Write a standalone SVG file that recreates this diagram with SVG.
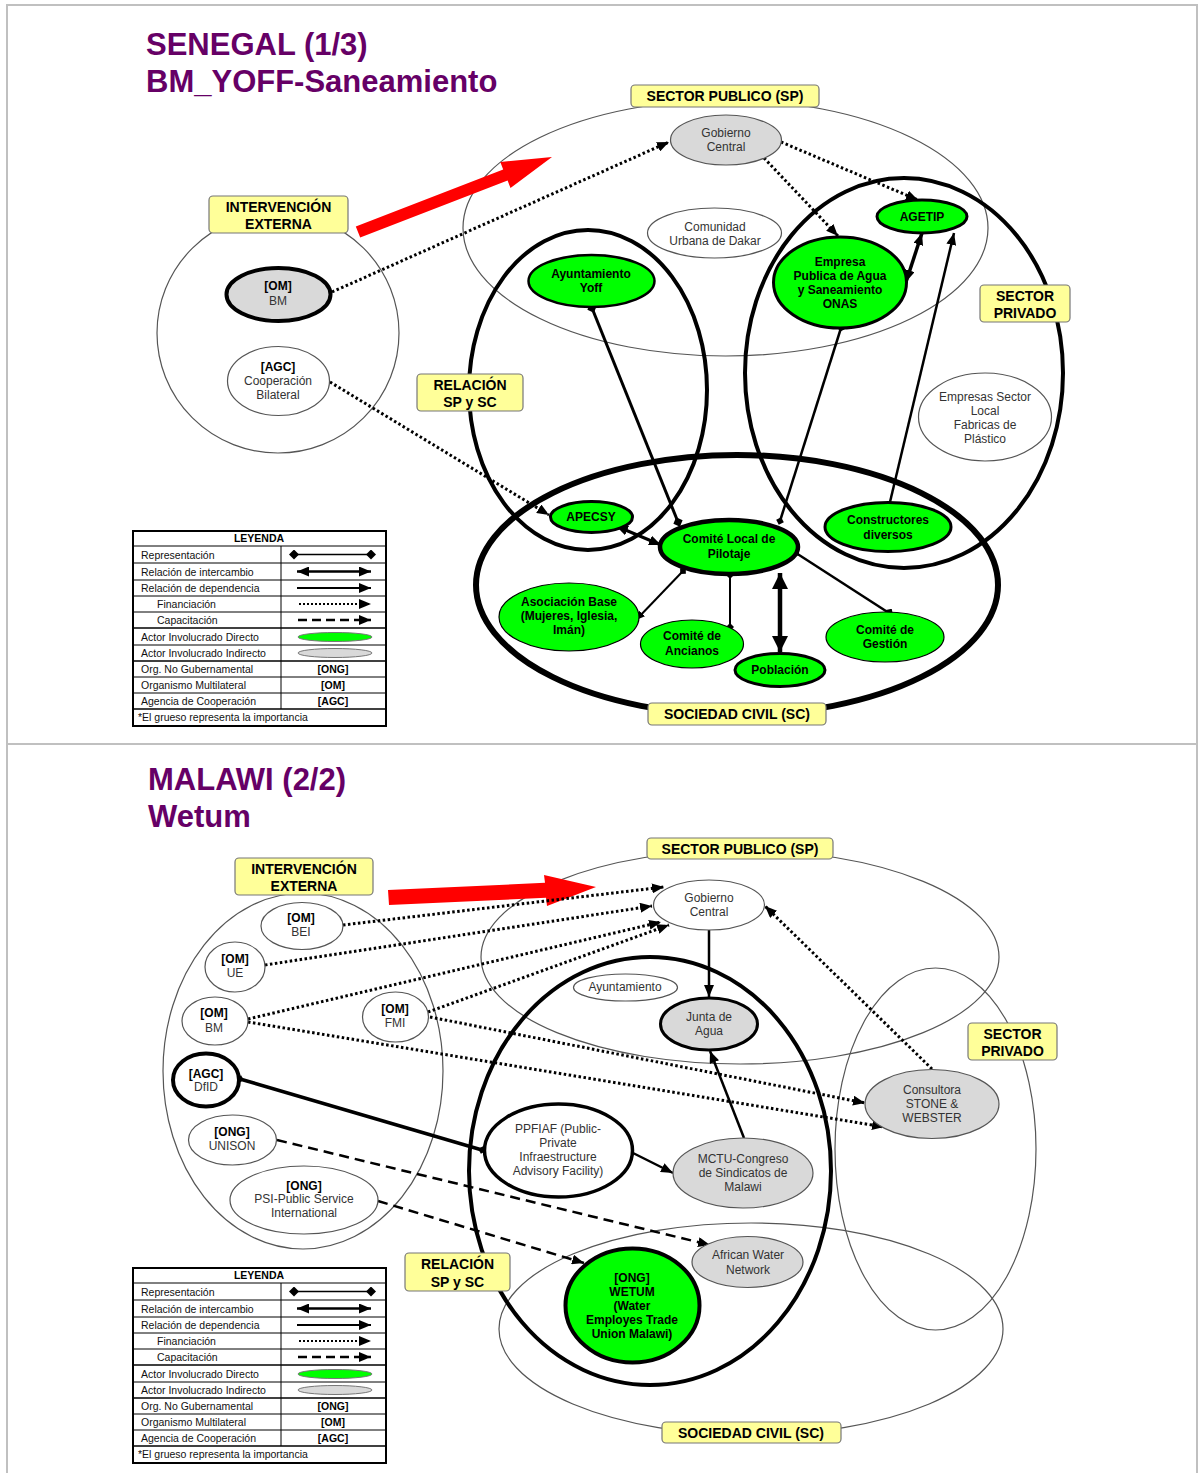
<svg xmlns="http://www.w3.org/2000/svg" width="1198" height="1473" viewBox="0 0 1198 1473">
<defs>
<style>
text{font-family:"Liberation Sans",Arial,sans-serif;}
.title{font-size:31px;font-weight:bold;fill:#660066;}
.region{fill:none;stroke:#555;stroke-width:1.2;}
.regionk{fill:none;stroke:#000;stroke-width:4;}
.lbl rect{fill:#ffff99;stroke:#777;stroke-width:1.2;}
.lbl text{font-size:14px;font-weight:bold;text-anchor:middle;fill:#000;}
.green{fill:#00ff00;stroke:#000;}
.gray{fill:#d9d9d9;stroke:#555;}
.white{fill:#fff;stroke:#555;}
.blk{stroke:#000;}
.nt{font-size:12px;text-anchor:middle;fill:#333;}
.nb{font-size:12px;font-weight:bold;text-anchor:middle;fill:#000;}
.dot{fill:none;stroke:#000;stroke-width:3;stroke-dasharray:2.5 2.5;}
.sol{fill:none;stroke:#000;}
.dash{fill:none;stroke:#000;stroke-width:2.5;stroke-dasharray:10 6;}
.lg{font-size:10.5px;fill:#111;}
.lgb{font-size:10.5px;fill:#000;font-weight:bold;text-anchor:middle;}
.lgl{stroke:#000;stroke-width:1;}
</style>
<marker id="ar" viewBox="0 0 12 10" refX="12" refY="5" markerWidth="12" markerHeight="10" markerUnits="userSpaceOnUse" orient="auto-start-reverse"><path d="M0,0L12,5L0,10z" fill="#000"/></marker>
<marker id="ars" viewBox="0 0 9 8" refX="9" refY="4" markerWidth="9" markerHeight="8" markerUnits="userSpaceOnUse" orient="auto-start-reverse"><path d="M0,0L9,4L0,8z" fill="#000"/></marker>
<marker id="arb" viewBox="0 0 16 16" refX="16" refY="8" markerWidth="16" markerHeight="16" markerUnits="userSpaceOnUse" orient="auto-start-reverse"><path d="M0,0L16,8L0,16z" fill="#000"/></marker>
<marker id="dm" viewBox="0 0 10 10" refX="5" refY="5" markerWidth="10" markerHeight="10" markerUnits="userSpaceOnUse" orient="auto"><path d="M0,5L5,0L10,5L5,10z" fill="#000"/></marker>
<marker id="dms" viewBox="0 0 8 8" refX="4" refY="4" markerWidth="8" markerHeight="8" markerUnits="userSpaceOnUse" orient="auto"><path d="M0,4L4,0L8,4L4,8z" fill="#000"/></marker>
</defs>

<rect x="0" y="0" width="1198" height="1473" fill="#fff"/>
<g id="frame">
<rect x="7" y="5" width="1190" height="1472" fill="none" stroke="#c0c0c0" stroke-width="2"/>
<line x1="7" y1="744" x2="1197" y2="744" stroke="#c0c0c0" stroke-width="2"/>
</g>

<!-- ================= SENEGAL ================= -->
<g id="title-senegal">
<text class="title" x="146" y="55">SENEGAL (1/3)</text>
<text class="title" x="146" y="92">BM_YOFF-Saneamiento</text>
</g>

<g id="s-regions">
<ellipse id="s-ext" class="region" cx="278" cy="333" rx="121" ry="120"/>
<ellipse id="s-sp" class="region" cx="725.5" cy="228" rx="262.5" ry="128"/>
<ellipse id="s-rel" class="regionk" cx="588" cy="390" rx="119" ry="160"/>
<ellipse id="s-priv" class="regionk" cx="904" cy="373" rx="159" ry="195"/>
<ellipse id="s-sc" class="regionk" cx="737" cy="585" rx="261" ry="130" style="stroke-width:6"/>
</g>

<g id="s-redarrow">
<polygon points="355.8,226.4 503.2,169.4 500.3,161.9 552,157 510.5,188.1 507.6,180.6 360.2,237.6" fill="#ff0000"/>
</g>

<g id="s-connectors">
<line class="dot" x1="332" y1="292" x2="669" y2="142" marker-end="url(#ar)"/>
<line class="dot" x1="330" y1="382" x2="549" y2="515" marker-end="url(#ar)"/>
<line class="dot" x1="781" y1="142" x2="918" y2="200" marker-end="url(#ar)"/>
<line class="dot" x1="764" y1="158" x2="838" y2="236" marker-end="url(#ar)"/>
<line class="sol" stroke-width="3.5" x1="906" y1="282" x2="922" y2="233" marker-start="url(#ar)" marker-end="url(#ar)"/>
<line class="sol" stroke-width="2.5" x1="890" y1="502" x2="954" y2="233" marker-end="url(#ar)"/>
<line class="sol" stroke-width="2.5" x1="780" y1="521" x2="841" y2="328" marker-start="url(#dms)" marker-end="url(#dms)"/>
<line class="sol" stroke-width="3" x1="678" y1="522" x2="592" y2="308" marker-start="url(#dm)" marker-end="url(#dm)"/>
<line class="sol" stroke-width="3" x1="616" y1="526" x2="661" y2="545" marker-start="url(#ar)" marker-end="url(#ar)"/>
<line class="sol" stroke-width="2" x1="683" y1="571" x2="636" y2="620" marker-start="url(#dms)" marker-end="url(#ars)"/>
<line class="sol" stroke-width="2" x1="730" y1="575" x2="730" y2="627" marker-start="url(#dms)" marker-end="url(#dms)"/>
<line class="sol" stroke-width="4.5" x1="780" y1="573" x2="780" y2="652" marker-start="url(#arb)" marker-end="url(#arb)"/>
<line class="sol" stroke-width="2.5" x1="796" y1="553" x2="889" y2="613" marker-start="url(#dms)" marker-end="url(#dm)"/>
</g>

<g id="s-nodes">
<g id="s-bm"><ellipse class="gray blk" stroke-width="4" cx="278.5" cy="294.5" rx="52" ry="26.5"/>
<text class="nb" font-size="11" x="278" y="290">[OM]</text><text class="nt" x="278" y="305">BM</text></g>
<g id="s-agc"><ellipse class="white" stroke-width="1.2" cx="278.5" cy="381" rx="51" ry="34.5"/>
<text class="nb" font-size="11" x="278" y="371">[AGC]</text><text class="nt" x="278" y="385">Cooperación</text><text class="nt" x="278" y="399">Bilateral</text></g>
<g id="s-gob"><ellipse class="gray" stroke-width="1.2" cx="726" cy="140" rx="55.5" ry="25"/>
<text class="nt" x="726" y="137">Gobierno</text><text class="nt" x="726" y="151">Central</text></g>
<g id="s-cud"><ellipse class="white" stroke-width="1.2" cx="714.5" cy="233" rx="67" ry="25"/>
<text class="nt" x="715" y="231">Comunidad</text><text class="nt" x="715" y="245">Urbana de Dakar</text></g>
<g id="s-ayto"><ellipse class="green" stroke-width="2.5" cx="591.5" cy="281" rx="63" ry="26"/>
<text class="nb" x="591" y="278">Ayuntamiento</text><text class="nb" x="591" y="292">Yoff</text></g>
<g id="s-agetip"><ellipse class="green" stroke-width="3" cx="922" cy="216.5" rx="45" ry="16.5"/>
<text class="nb" x="922" y="221">AGETIP</text></g>
<g id="s-onas"><ellipse class="green" stroke-width="3" cx="840" cy="282.5" rx="66.5" ry="45.5"/>
<text class="nb" x="840" y="266">Empresa</text><text class="nb" x="840" y="280">Publica de Agua</text><text class="nb" x="840" y="294">y Saneamiento</text><text class="nb" x="840" y="308">ONAS</text></g>
<g id="s-esl"><ellipse class="white" stroke-width="1.2" cx="985" cy="417" rx="66.5" ry="44"/>
<text class="nt" x="985" y="401">Empresas Sector</text><text class="nt" x="985" y="415">Local</text><text class="nt" x="985" y="429">Fabricas de</text><text class="nt" x="985" y="443">Plástico</text></g>
<g id="s-apecsy"><ellipse class="green" stroke-width="3" cx="591.5" cy="517" rx="41" ry="15.5"/>
<text class="nb" x="591" y="521">APECSY</text></g>
<g id="s-clp"><ellipse class="green" stroke-width="4.5" cx="729" cy="547" rx="69" ry="27"/>
<text class="nb" x="729" y="543">Comité Local de</text><text class="nb" x="729" y="558">Pilotaje</text></g>
<g id="s-constr"><ellipse class="green" stroke-width="3" cx="888" cy="527" rx="63" ry="24.5"/>
<text class="nb" x="888" y="524">Constructores</text><text class="nb" x="888" y="539">diversos</text></g>
<g id="s-asoc"><ellipse class="green" stroke-width="1.2" cx="569" cy="617" rx="70" ry="34"/>
<text class="nb" x="569" y="606">Asociación Base</text><text class="nb" x="569" y="620">(Mujeres, Iglesia,</text><text class="nb" x="569" y="634">Imán)</text></g>
<g id="s-ancianos"><ellipse class="green" stroke-width="1.2" cx="692" cy="644" rx="51.5" ry="24"/>
<text class="nb" x="692" y="640">Comité de</text><text class="nb" x="692" y="655">Ancianos</text></g>
<g id="s-poblacion"><ellipse class="green" stroke-width="3" cx="780" cy="670" rx="45" ry="16.5"/>
<text class="nb" x="780" y="674">Población</text></g>
<g id="s-gestion"><ellipse class="green" stroke-width="1.2" cx="885" cy="637" rx="59" ry="25"/>
<text class="nb" x="885" y="634">Comité de</text><text class="nb" x="885" y="648">Gestión</text></g>
</g>

<g id="s-labels">
<g class="lbl" id="s-lbl-ext"><rect x="209" y="196" width="139" height="37" rx="4"/><text x="278.5" y="212">INTERVENCIÓN</text><text x="278.5" y="229">EXTERNA</text></g>
<g class="lbl" id="s-lbl-sp"><rect x="631" y="85" width="188" height="22" rx="4"/><text x="725" y="101">SECTOR PUBLICO (SP)</text></g>
<g class="lbl" id="s-lbl-priv"><rect x="980" y="285" width="90" height="37" rx="4"/><text x="1025" y="301">SECTOR</text><text x="1025" y="318">PRIVADO</text></g>
<g class="lbl" id="s-lbl-rel"><rect x="417" y="374" width="106" height="37" rx="4"/><text x="470" y="390">RELACIÓN</text><text x="470" y="407">SP y SC</text></g>
<g class="lbl" id="s-lbl-sc"><rect x="648" y="703" width="178" height="22" rx="4"/><text x="737" y="719">SOCIEDAD CIVIL (SC)</text></g>
</g>

<g id="legend-top">
<rect x="133" y="531" width="253" height="195" fill="#fff" stroke="#000" stroke-width="2"/>
<g class="lgl">
<line x1="133" y1="546" x2="386" y2="546"/><line x1="133" y1="563" x2="386" y2="563"/><line x1="133" y1="580" x2="386" y2="580"/>
<line x1="133" y1="596" x2="386" y2="596"/><line x1="133" y1="612" x2="386" y2="612"/><line x1="133" y1="628" x2="386" y2="628" stroke-width="1.5"/>
<line x1="133" y1="645" x2="386" y2="645"/><line x1="133" y1="661" x2="386" y2="661" stroke-width="1.5"/><line x1="133" y1="677" x2="386" y2="677"/>
<line x1="133" y1="693" x2="386" y2="693"/><line x1="133" y1="709" x2="386" y2="709" stroke-width="1.5"/>
<line x1="281" y1="546" x2="281" y2="709"/>
</g>
<text class="lgb" x="259" y="542">LEYENDA</text>
<text class="lg" x="141" y="559">Representación</text>
<text class="lg" x="141" y="576">Relación de intercambio</text>
<text class="lg" x="141" y="592">Relación de dependencia</text>
<text class="lg" x="157" y="608">Financiación</text>
<text class="lg" x="157" y="624">Capacitación</text>
<text class="lg" x="141" y="641">Actor Involucrado Directo</text>
<text class="lg" x="141" y="657">Actor Involucrado Indirecto</text>
<text class="lg" x="141" y="673">Org. No Gubernamental</text>
<text class="lg" x="141" y="689">Organismo Multilateral</text>
<text class="lg" x="141" y="705">Agencia de Cooperación</text>
<text class="lg" x="138" y="721">*El grueso representa la importancia</text>
<text class="lgb" x="333" y="673">[ONG]</text>
<text class="lgb" x="333" y="689">[OM]</text>
<text class="lgb" x="333" y="705">[AGC]</text>
<line class="sol" stroke-width="1.5" x1="294" y1="554.5" x2="371" y2="554.5" marker-start="url(#dm)" marker-end="url(#dm)"/>
<line class="sol" stroke-width="2.5" x1="297" y1="571.5" x2="371" y2="571.5" marker-start="url(#ar)" marker-end="url(#ar)"/>
<line class="sol" stroke-width="2" x1="297" y1="588" x2="371" y2="588" marker-end="url(#ar)"/>
<line class="sol" stroke-width="2" stroke-dasharray="2 2" x1="299" y1="604" x2="371" y2="604" marker-end="url(#ar)"/>
<line class="sol" stroke-width="2.5" stroke-dasharray="9 5" x1="298" y1="620" x2="371" y2="620" marker-end="url(#ar)"/>
<ellipse cx="335" cy="637" rx="37" ry="4.5" fill="#00ff00" stroke="#777"/>
<ellipse cx="335" cy="653" rx="37" ry="4.5" fill="#d9d9d9" stroke="#777"/>
</g>

<!-- ================= MALAWI ================= -->
<g id="title-malawi">
<text class="title" x="148" y="790">MALAWI (2/2)</text>
<text class="title" x="148" y="827">Wetum</text>
</g>

<g id="m-regions">
<ellipse id="m-ext" class="region" cx="303" cy="1071" rx="140" ry="178"/>
<ellipse id="m-sp" class="region" cx="740" cy="957" rx="259" ry="107"/>
<ellipse id="m-priv" class="region" cx="935.5" cy="1149" rx="100.5" ry="181"/>
<ellipse id="m-sc" class="region" cx="751" cy="1329" rx="252" ry="106"/>
<ellipse id="m-rel" class="regionk" cx="650" cy="1171" rx="181" ry="214"/>
</g>

<g id="m-redarrow">
<polygon points="388,890 545,882.8 544,875 596,887 547,906 546,897.8 389,905" fill="#ff0000"/>
</g>

<g id="m-connectors">
<line class="dot" x1="343" y1="925" x2="664" y2="887" marker-end="url(#ar)"/>
<line class="dot" x1="265" y1="965" x2="652" y2="906" marker-end="url(#ar)"/>
<line class="dot" x1="248" y1="1019" x2="661" y2="922" marker-end="url(#ar)"/>
<line class="dot" x1="428" y1="1012" x2="669" y2="925" marker-end="url(#ar)"/>
<line class="dot" x1="430" y1="1017" x2="865" y2="1103" marker-end="url(#ar)"/>
<line class="dot" x1="248" y1="1022" x2="884" y2="1127" marker-end="url(#ar)"/>
<line class="dot" x1="932" y1="1069" x2="765" y2="906" marker-end="url(#ar)"/>
<line class="sol" stroke-width="2.5" x1="709" y1="930" x2="709" y2="997" marker-end="url(#ar)"/>
<line class="sol" stroke-width="2.5" x1="744" y1="1138" x2="710" y2="1051" marker-end="url(#ar)"/>
<line class="sol" stroke-width="2.5" x1="633" y1="1153" x2="673" y2="1173" marker-end="url(#ar)"/>
<line class="sol" stroke-width="3.5" x1="240" y1="1079" x2="482" y2="1150" marker-start="url(#dms)" marker-end="url(#dms)"/>
<line class="dash" x1="277" y1="1140" x2="710" y2="1245" marker-end="url(#ar)"/>
<line class="dash" x1="378" y1="1201" x2="584" y2="1263" marker-end="url(#ar)"/>
</g>

<g id="m-nodes">
<g id="m-bei"><ellipse class="white" stroke-width="1.2" cx="302" cy="926" rx="41" ry="23.5"/>
<text class="nb" font-size="11" x="301" y="922">[OM]</text><text class="nt" x="301" y="936">BEI</text></g>
<g id="m-ue"><ellipse class="white" stroke-width="1.2" cx="235" cy="967" rx="30" ry="25"/>
<text class="nb" font-size="11" x="235" y="963">[OM]</text><text class="nt" x="235" y="977">UE</text></g>
<g id="m-bm"><ellipse class="white" stroke-width="1.2" cx="215" cy="1021" rx="33" ry="24"/>
<text class="nb" font-size="11" x="214" y="1017">[OM]</text><text class="nt" x="214" y="1032">BM</text></g>
<g id="m-fmi"><ellipse class="white" stroke-width="1.2" cx="395.5" cy="1017" rx="33" ry="25"/>
<text class="nb" font-size="11" x="395" y="1013">[OM]</text><text class="nt" x="395" y="1027">FMI</text></g>
<g id="m-dfid"><ellipse class="white blk" stroke-width="4" cx="206" cy="1080" rx="33" ry="26.5"/>
<text class="nb" font-size="10.5" x="206" y="1078">[AGC]</text><text class="nt" font-size="10.5" x="206" y="1091">DfID</text></g>
<g id="m-unison"><ellipse class="white" stroke-width="1.2" cx="232.5" cy="1140" rx="44" ry="25"/>
<text class="nb" font-size="11" x="232" y="1136">[ONG]</text><text class="nt" x="232" y="1150">UNISON</text></g>
<g id="m-psi"><ellipse class="white" stroke-width="1.2" cx="304" cy="1200" rx="74" ry="34"/>
<text class="nb" font-size="11" x="304" y="1190">[ONG]</text><text class="nt" x="304" y="1203">PSI-Public Service</text><text class="nt" x="304" y="1217">International</text></g>
<g id="m-gob"><ellipse class="white" stroke-width="1.2" cx="709" cy="905" rx="55.5" ry="25"/>
<text class="nt" x="709" y="902">Gobierno</text><text class="nt" x="709" y="916">Central</text></g>
<g id="m-ayto"><ellipse class="white" stroke-width="1.2" cx="625.5" cy="987.5" rx="52" ry="13.5"/>
<text class="nt" x="625" y="991">Ayuntamiento</text></g>
<g id="m-junta"><ellipse class="gray blk" stroke-width="3" cx="709" cy="1024" rx="48.5" ry="26"/>
<text class="nt" x="709" y="1021">Junta de</text><text class="nt" x="709" y="1035">Agua</text></g>
<g id="m-cons"><ellipse class="gray" stroke-width="1.2" cx="932" cy="1104" rx="67" ry="34.5"/>
<text class="nt" x="932" y="1094">Consultora</text><text class="nt" x="932" y="1108">STONE &amp;</text><text class="nt" x="932" y="1122">WEBSTER</text></g>
<g id="m-ppfiaf"><ellipse class="white blk" stroke-width="3.5" cx="558.5" cy="1150.5" rx="74" ry="46.5"/>
<text class="nt" x="558" y="1133">PPFIAF (Public-</text><text class="nt" x="558" y="1147">Private</text><text class="nt" x="558" y="1161">Infraestructure</text><text class="nt" x="558" y="1175">Advisory Facility)</text></g>
<g id="m-mctu"><ellipse class="gray" stroke-width="1.2" cx="743" cy="1173" rx="70" ry="35"/>
<text class="nt" x="743" y="1163">MCTU-Congreso</text><text class="nt" x="743" y="1177">de Sindicatos de</text><text class="nt" x="743" y="1191">Malawi</text></g>
<g id="m-awn"><ellipse class="gray" stroke-width="1.2" cx="747.5" cy="1262" rx="55.5" ry="25.5"/>
<text class="nt" x="748" y="1259">African Water</text><text class="nt" x="748" y="1274">Network</text></g>
<g id="m-wetum"><ellipse class="green" stroke-width="4" cx="632.5" cy="1305.5" rx="67" ry="57"/>
<text class="nb" font-size="11.5" x="632" y="1282">[ONG]</text><text class="nb" font-size="11.5" x="632" y="1296">WETUM</text><text class="nb" font-size="11.5" x="632" y="1310">(Water</text><text class="nb" font-size="11.5" x="632" y="1324">Employes Trade</text><text class="nb" font-size="11.5" x="632" y="1338">Union Malawi)</text></g>
</g>

<g id="m-labels">
<g class="lbl" id="m-lbl-ext"><rect x="235" y="858" width="138" height="37" rx="4"/><text x="304" y="874">INTERVENCIÓN</text><text x="304" y="891">EXTERNA</text></g>
<g class="lbl" id="m-lbl-sp"><rect x="647" y="838" width="186" height="21" rx="4"/><text x="740" y="854">SECTOR PUBLICO (SP)</text></g>
<g class="lbl" id="m-lbl-priv"><rect x="968" y="1023" width="89" height="37" rx="4"/><text x="1012.5" y="1039">SECTOR</text><text x="1012.5" y="1056">PRIVADO</text></g>
<g class="lbl" id="m-lbl-rel"><rect x="405" y="1253" width="105" height="38" rx="4"/><text x="457.5" y="1269">RELACIÓN</text><text x="457.5" y="1287">SP y SC</text></g>
<g class="lbl" id="m-lbl-sc"><rect x="662" y="1422" width="179" height="21" rx="4"/><text x="751" y="1438">SOCIEDAD CIVIL (SC)</text></g>
</g>

<g id="legend-bottom" transform="translate(0,737)">
<rect x="133" y="531" width="253" height="195" fill="#fff" stroke="#000" stroke-width="2"/>
<g class="lgl">
<line x1="133" y1="546" x2="386" y2="546"/><line x1="133" y1="563" x2="386" y2="563"/><line x1="133" y1="580" x2="386" y2="580"/>
<line x1="133" y1="596" x2="386" y2="596"/><line x1="133" y1="612" x2="386" y2="612"/><line x1="133" y1="628" x2="386" y2="628" stroke-width="1.5"/>
<line x1="133" y1="645" x2="386" y2="645"/><line x1="133" y1="661" x2="386" y2="661" stroke-width="1.5"/><line x1="133" y1="677" x2="386" y2="677"/>
<line x1="133" y1="693" x2="386" y2="693"/><line x1="133" y1="709" x2="386" y2="709" stroke-width="1.5"/>
<line x1="281" y1="546" x2="281" y2="709"/>
</g>
<text class="lgb" x="259" y="542">LEYENDA</text>
<text class="lg" x="141" y="559">Representación</text>
<text class="lg" x="141" y="576">Relación de intercambio</text>
<text class="lg" x="141" y="592">Relación de dependencia</text>
<text class="lg" x="157" y="608">Financiación</text>
<text class="lg" x="157" y="624">Capacitación</text>
<text class="lg" x="141" y="641">Actor Involucrado Directo</text>
<text class="lg" x="141" y="657">Actor Involucrado Indirecto</text>
<text class="lg" x="141" y="673">Org. No Gubernamental</text>
<text class="lg" x="141" y="689">Organismo Multilateral</text>
<text class="lg" x="141" y="705">Agencia de Cooperación</text>
<text class="lg" x="138" y="721">*El grueso representa la importancia</text>
<text class="lgb" x="333" y="673">[ONG]</text>
<text class="lgb" x="333" y="689">[OM]</text>
<text class="lgb" x="333" y="705">[AGC]</text>
<line class="sol" stroke-width="1.5" x1="294" y1="554.5" x2="371" y2="554.5" marker-start="url(#dm)" marker-end="url(#dm)"/>
<line class="sol" stroke-width="2.5" x1="297" y1="571.5" x2="371" y2="571.5" marker-start="url(#ar)" marker-end="url(#ar)"/>
<line class="sol" stroke-width="2" x1="297" y1="588" x2="371" y2="588" marker-end="url(#ar)"/>
<line class="sol" stroke-width="2" stroke-dasharray="2 2" x1="299" y1="604" x2="371" y2="604" marker-end="url(#ar)"/>
<line class="sol" stroke-width="2.5" stroke-dasharray="9 5" x1="298" y1="620" x2="371" y2="620" marker-end="url(#ar)"/>
<ellipse cx="335" cy="637" rx="37" ry="4.5" fill="#00ff00" stroke="#777"/>
<ellipse cx="335" cy="653" rx="37" ry="4.5" fill="#d9d9d9" stroke="#777"/>
</g>
</svg>
